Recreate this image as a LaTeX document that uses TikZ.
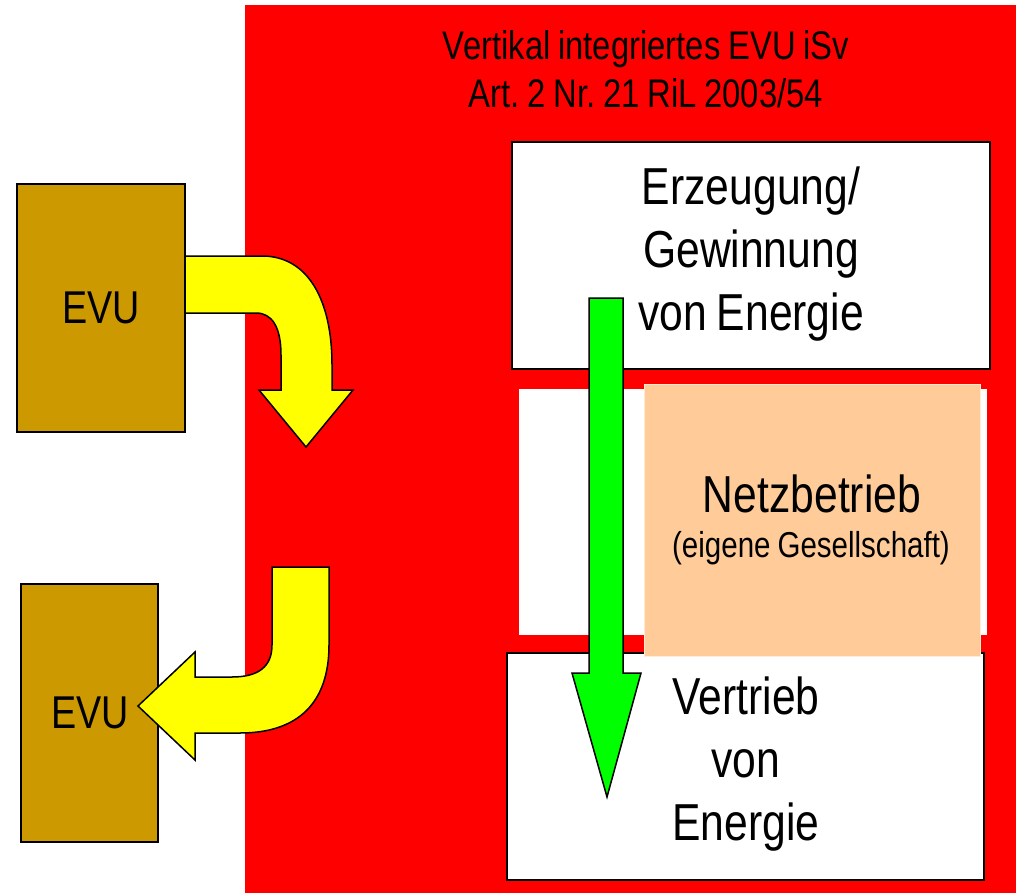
\documentclass[tikz,border=0pt]{standalone}
\usepackage{fontspec}
\setmainfont[FakeStretch=0.82,WordSpace=0.85]{Liberation Sans}
\frenchspacing
\definecolor{evured}{HTML}{FF0000}
\definecolor{evubrown}{HTML}{CC9900}
\definecolor{peach}{HTML}{FFCC99}
\definecolor{arrowyellow}{HTML}{FFFF00}
\definecolor{arrowgreen}{HTML}{00FF00}
\tikzset{
  evubox/.style={draw=black, line width=1.5pt, fill=evubrown},
  whitebox/.style={draw=black, line width=2pt, fill=white},
  bigarrow/.style={draw=black, line width=1.5pt, line join=miter},
  bigtext/.style={align=center, font=\fontsize{52}{63}\selectfont, inner sep=0pt},
}
\begin{document}
\begin{tikzpicture}[x=1pt,y=-1pt]
\useasboundingbox (0,0) rectangle (1016,893);
% red frame
\fill[evured] (245,5) rectangle (1016,893);
\node[align=center, font=\fontsize{40}{48}\selectfont\frenchspacing, inner sep=0pt] (title) at (646,69)
  {Vertikal integriertes EVU iSv\\Art. 2 Nr. 21 RiL 2003/54};
% boxes
\draw[whitebox] (512,142) rectangle (990,369);
\node[bigtext] (erz) at (751,254) {Erzeugung/\\Gewinnung\\von Energie};
\fill[white] (519,389) rectangle (987,635);
\draw[whitebox] (507,653) rectangle (984,880);
\draw[draw=white!60!peach, line width=1pt, fill=peach] (644,384) rectangle (980,656);
\node[font=\fontsize{52}{60}\selectfont, inner sep=0pt] (netz) at (812,494) {Netzbetrieb};
\node[font=\fontsize{36}{40}\selectfont, inner sep=0pt] (ges) at (811,548) {(eigene Gesellschaft)};
\node[bigtext] (vert) at (746,764) {Vertrieb\\von\\Energie};
% green arrow
\draw[bigarrow, fill=arrowgreen] (589,298) -- (623,298) -- (623,673) -- (641,673)
  -- (607,797) -- (572,673) -- (589,673) -- cycle;
% EVU boxes
\draw[evubox] (17,184) rectangle (185,432);
\node[font=\fontsize{46}{52}\selectfont] (evu1) at (101,308) {EVU};
\draw[evubox] (21,584) rectangle (158,842);
\node[font=\fontsize{46}{52}\selectfont] (evu2) at (90,713) {EVU};
% yellow arrow 1
\draw[bigarrow, fill=arrowyellow] (185,256) -- (262,256)
  .. controls (308,256) and (332,300) .. (332,365) -- (332,390) -- (353,390)
  -- (306,447) -- (259,390) -- (281,390) -- (281,355)
  .. controls (281,327) and (272,313) .. (256,313) -- (185,313) -- cycle;
% yellow arrow 2
\draw[bigarrow, fill=arrowyellow] (272,567) -- (329,567) -- (329,645)
  .. controls (329,703) and (298,733) .. (240,733) -- (195,733) -- (195,760)
  -- (138,706) -- (195,652) -- (195,677) -- (232,677)
  .. controls (258,677) and (272,667) .. (272,645) -- cycle;
\end{tikzpicture}
\end{document}
